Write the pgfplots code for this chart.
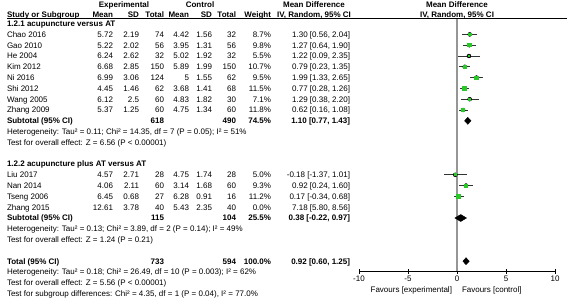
\documentclass[border=0pt]{standalone}
\usepackage{fontspec}
\setmainfont{Liberation Sans}
\usepackage{pgfplots}
\pgfplotsset{compat=1.18}
\usepackage{pgfplotstable}
\definecolor{cigreen}{RGB}{40,200,40}
\definecolor{zerogray}{RGB}{150,150,150}
\newcommand\fs{\fontsize{8}{9.6}\selectfont}
\newcommand\TL[3]{\node[anchor=base west] at (#1,{-(#2)}) {#3};}
\newcommand\TR[3]{\node[anchor=base east] at (#1,{-(#2)}) {#3};}
\newcommand\TC[3]{\node[anchor=base] at (#1,{-(#2)}) {#3};}
\newcommand\yb[1]{4.9+10.8*#1}
\newcommand\rowa[9]{\TL{7}{\yb{#1}}{#2}\TR{113}{\yb{#1}}{#3}\TR{139}{\yb{#1}}{#4}\TR{164}{\yb{#1}}{#5}\TR{189}{\yb{#1}}{#6}\TR{212}{\yb{#1}}{#7}\TR{236}{\yb{#1}}{#8}\TR{271}{\yb{#1}}{#9}}

\pgfplotstableread{
y md lo hi w
-34.4 1.30 0.56 2.04 8.7
-45.2 1.27 0.64 1.90 9.8
-56.0 1.22 0.09 2.35 5.5
-66.8 0.79 0.23 1.35 10.7
-77.6 1.99 1.33 2.65 9.5
-88.4 0.77 0.28 1.26 11.5
-99.2 1.29 0.38 2.20 7.1
-110.0 0.62 0.16 1.08 11.8
-174.8 -0.18 -1.37 1.01 5.0
-185.6 0.92 0.24 1.60 9.3
-196.4 0.17 -0.34 0.68 11.2
}\studies

\begin{document}
\begin{tikzpicture}[x=1pt,y=1pt,every node/.style={inner sep=0pt,outer sep=0pt,font=\fs}]
\useasboundingbox (0,-299) rectangle (567,0);
% header
\TC{124}{7.4}{\bfseries Experimental}
\TC{200}{7.4}{\bfseries Control}
\TC{314}{7.4}{\bfseries Mean Difference}
\TC{457}{7.4}{\bfseries Mean Difference}
\TL{7}{17.4}{\bfseries Study or Subgroup}
\TR{113}{17.4}{\bfseries Mean}
\TR{139}{17.4}{\bfseries SD}
\TR{164}{17.4}{\bfseries Total}
\TR{189}{17.4}{\bfseries Mean}
\TR{212}{17.4}{\bfseries SD}
\TR{236}{17.4}{\bfseries Total}
\TR{271}{17.4}{\bfseries Weight}
\TC{314}{17.4}{\bfseries IV, Random, 95\% CI}
\TC{457}{17.4}{\bfseries IV, Random, 95\% CI}
\draw[black,line width=0.8pt] (7,-18.8) -- (567,-18.8);
% group 1
\TL{7}{\yb{2}}{\bfseries 1.2.1 acupuncture versus AT}
\rowa{3}{Chao 2016}{5.72}{2.19}{74}{4.42}{1.56}{32}{8.7\%}\TR{350}{\yb{3}}{1.30 [0.56, 2.04]}
\rowa{4}{Gao 2010}{5.22}{2.02}{56}{3.95}{1.31}{56}{9.8\%}\TR{350}{\yb{4}}{1.27 [0.64, 1.90]}
\rowa{5}{He 2004}{6.24}{2.62}{32}{5.02}{1.92}{32}{5.5\%}\TR{350}{\yb{5}}{1.22 [0.09, 2.35]}
\rowa{6}{Kim 2012}{6.68}{2.85}{150}{5.89}{1.99}{150}{10.7\%}\TR{350}{\yb{6}}{0.79 [0.23, 1.35]}
\rowa{7}{Ni 2016}{6.99}{3.06}{124}{5}{1.55}{62}{9.5\%}\TR{350}{\yb{7}}{1.99 [1.33, 2.65]}
\rowa{8}{Shi 2012}{4.45}{1.46}{62}{3.68}{1.41}{68}{11.5\%}\TR{350}{\yb{8}}{0.77 [0.28, 1.26]}
\rowa{9}{Wang 2005}{6.12}{2.5}{60}{4.83}{1.82}{30}{7.1\%}\TR{350}{\yb{9}}{1.29 [0.38, 2.20]}
\rowa{10}{Zhang 2009}{5.37}{1.25}{60}{4.75}{1.34}{60}{11.8\%}\TR{350}{\yb{10}}{0.62 [0.16, 1.08]}
\TL{7}{\yb{11}}{\bfseries Subtotal (95\% CI)}\TR{164}{\yb{11}}{\bfseries 618}\TR{236}{\yb{11}}{\bfseries 490}\TR{271}{\yb{11}}{\bfseries 74.5\%}\TR{350}{\yb{11}}{\bfseries 1.10 [0.77, 1.43]}
\TL{7}{\yb{12}}{Heterogeneity: Tau² = 0.11; Chi² = 14.35, df = 7 (P = 0.05); I² = 51\%}
\TL{7}{\yb{13}}{Test for overall effect: Z = 6.56 (P < 0.00001)}
% group 2
\TL{7}{\yb{15}}{\bfseries 1.2.2 acupuncture plus AT versus AT}
\rowa{16}{Liu 2017}{4.57}{2.71}{28}{4.75}{1.74}{28}{5.0\%}\TR{350}{\yb{16}}{-0.18 [-1.37, 1.01]}
\rowa{17}{Nan 2014}{4.06}{2.11}{60}{3.14}{1.68}{60}{9.3\%}\TR{350}{\yb{17}}{0.92 [0.24, 1.60]}
\rowa{18}{Tseng 2006}{6.45}{0.68}{27}{6.28}{0.91}{16}{11.2\%}\TR{350}{\yb{18}}{0.17 [-0.34, 0.68]}
\rowa{19}{Zhang 2015}{12.61}{3.78}{40}{5.43}{2.35}{40}{0.0\%}\TR{350}{\yb{19}}{7.18 [5.80, 8.56]}
\TL{7}{\yb{20}}{\bfseries Subtotal (95\% CI)}\TR{164}{\yb{20}}{\bfseries 115}\TR{236}{\yb{20}}{\bfseries 104}\TR{271}{\yb{20}}{\bfseries 25.5\%}\TR{350}{\yb{20}}{\bfseries 0.38 [-0.22, 0.97]}
\TL{7}{\yb{21}}{Heterogeneity: Tau² = 0.13; Chi² = 3.89, df = 2 (P = 0.14); I² = 49\%}
\TL{7}{\yb{22}}{Test for overall effect: Z = 1.24 (P = 0.21)}
% total
\TL{7}{\yb{24}}{\bfseries Total (95\% CI)}\TR{164}{\yb{24}}{\bfseries 733}\TR{236}{\yb{24}}{\bfseries 594}\TR{271}{\yb{24}}{\bfseries 100.0\%}\TR{350}{\yb{24}}{\bfseries 0.92 [0.60, 1.25]}
\TL{7}{\yb{25}}{Heterogeneity: Tau² = 0.18; Chi² = 26.49, df = 10 (P = 0.003); I² = 62\%}
\TL{7}{\yb{26}}{Test for overall effect: Z = 5.56 (P < 0.00001)}
\TL{7}{\yb{27}}{Test for subgroup differences: Chi² = 4.35, df = 1 (P = 0.04), I² = 77.0\%}
\TR{452}{292}{Favours [experimental]}
\TL{462}{292}{Favours [control]}

\begin{axis}[at={(359pt,-271pt)}, anchor=south west, scale only axis,
  width=196pt, height=252.2pt, xmin=-10, xmax=10, ymin=-271, ymax=-18.8,
  axis x line*=bottom, axis y line=none, clip=false,
  x axis line style={-, black, line width=0.8pt},
  xtick={-10,-5,0,5,10}, xticklabels={-10,-5,0,5,10},
  tick align=center, major tick length=5pt,
  x tick style={black, line width=0.8pt},
  xticklabel style={font=\fs, inner sep=0pt, yshift=-2.5pt}]
\addplot[zerogray, line width=1.8pt] coordinates {(0,-18.8) (0,-271)};
\addplot[only marks, mark=none, error bars/.cd, x dir=both, x explicit, error mark=none,
  error bar style={black!80, line width=0.9pt}]
  table[x=md, y=y, x error plus expr=\thisrow{hi}-\thisrow{md}, x error minus expr=\thisrow{md}-\thisrow{lo}] {\studies};
\addplot[scatter, only marks, mark=square*, point meta=explicit,
  mark options={draw=cigreen, fill=cigreen, line width=0pt},
  scatter/use mapped color={draw=cigreen, fill=cigreen},
  visualization depends on={0.16*\thisrow{w} \as \ms},
  scatter/@pre marker code/.append style={/tikz/mark size=\ms pt}]
  table[x=md, y=y, meta=w] {\studies};
\addplot[fill=black, draw=black] coordinates {(0.77,-120.8) (1.10,-117.3) (1.43,-120.8) (1.10,-124.3) (0.77,-120.8)};
\addplot[fill=black, draw=black] coordinates {(-0.22,-218) (0.38,-214.5) (0.97,-218) (0.38,-221.5) (-0.22,-218)};
\addplot[fill=black, draw=black] coordinates {(0.60,-261.2) (0.92,-257.7) (1.25,-261.2) (0.92,-264.7) (0.60,-261.2)};
\end{axis}
\end{tikzpicture}
\end{document}
